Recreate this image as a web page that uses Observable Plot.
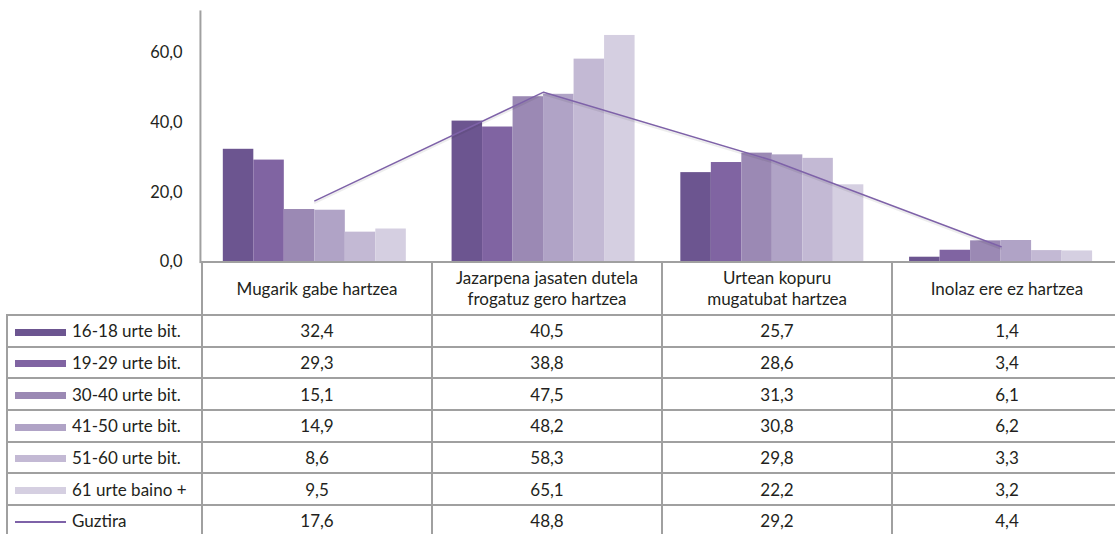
<!DOCTYPE html>
<html><head><meta charset="utf-8">
<script src="https://cdn.jsdelivr.net/npm/d3@7"></script>
<script src="https://cdn.jsdelivr.net/npm/@observablehq/plot@0.6"></script>
<style>
html,body{margin:0;padding:0;background:#fff;overflow:hidden;}
#wrap{position:relative;width:1115px;height:534px;overflow:hidden;font-family:Lato,"Open Sans",sans-serif;color:#231f20;}
#chart{position:absolute;left:0;top:0;}
#tbl{position:absolute;left:6px;top:262px;width:1115px;max-width:none;border-collapse:collapse;table-layout:fixed;font-size:17px;}
#tbl td{border:2px solid #a0a0a0;text-align:center;padding:0;white-space:pre-line;line-height:21px;overflow:hidden;}
#tbl tr.head td{height:52px;border-top:none;}
#tbl tr.head td.first{border-left:none;}
#tbl tr.row td{height:29.7px;}
#tbl tr.last td{border-bottom:none;}
#tbl td.first{text-align:left;padding-left:7px;}
.sw{display:inline-block;width:51px;height:7px;vertical-align:middle;margin-right:6px;position:relative;top:-1px;}
.swl{display:inline-block;width:51px;height:2px;vertical-align:middle;margin-right:6px;position:relative;top:-1px;}
</style></head>
<body>
<div id="wrap"><div id="chart"></div></div>
<script>
const categories = ["Mugarik gabe hartzea", "Jazarpena jasaten dutela frogatuz gero hartzea", "Urtean kopuru mugatubat hartzea", "Inolaz ere ez hartzea"];
const categoryLines = ["Mugarik gabe hartzea", "Jazarpena jasaten dutela\nfrogatuz gero hartzea", "Urtean kopuru\nmugatubat hartzea", "Inolaz ere ez hartzea"];
const seriesNames = ["16-18 urte bit.", "19-29 urte bit.", "30-40 urte bit.", "41-50 urte bit.", "51-60 urte bit.", "61 urte baino +"];
const v16_18 = [32.4, 40.5, 25.7, 1.4];
const v19_29 = [29.3, 38.8, 28.6, 3.4];
const v30_40 = [15.1, 47.5, 31.3, 6.1];
const v41_50 = [14.9, 48.2, 30.8, 6.2];
const v51_60 = [8.6, 58.3, 29.8, 3.3];
const v61 = [9.5, 65.1, 22.2, 3.2];
const totalName = "Guztira";
const total = [17.6, 48.8, 29.2, 4.4];
const yTicks = [0, 20, 40, 60];
const colors = ["#6c5590", "#8064a2", "#9b89b4", "#b0a3c6", "#c3b9d4", "#d5cfe1"];
const lineColor = "#7e62a8";

const seriesValues = [v16_18, v19_29, v30_40, v41_50, v51_60, v61];
const fmt = d => d.toFixed(1).replace(".", ",");

const bandW = 230, groupW = 184, barW = groupW / seriesValues.length;
const inset = (bandW - barW) / 2;

const barMarks = seriesValues.map((vals, i) =>
  Plot.barY(vals, {
    x: categories, y: vals, fill: colors[i],
    insetLeft: inset, insetRight: inset,
    dx: (i - (seriesValues.length - 1) / 2) * barW
  })
);

const chart = Plot.plot({
  width: 1121, height: 284,
  marginLeft: 201, marginRight: 0, marginTop: 11, marginBottom: 21,
  style: {fontFamily: "Lato, 'Open Sans', sans-serif", fontSize: "16px", color: "#231f20", background: "transparent", overflow: "visible"},
  x: {domain: categories, padding: 0, axis: null},
  y: {domain: [0, 72], axis: null},
  marks: [
    ...barMarks,
    Plot.lineY(total, {x: categories, y: total, stroke: "#000", strokeOpacity: 0.07, strokeWidth: 2, dy: 2}),
    Plot.lineY(total, {x: categories, y: total, stroke: lineColor, strokeWidth: 1.5}),
    Plot.axisY({ticks: yTicks, tickFormat: fmt, tickSize: 0, tickPadding: 18, fontSize: 16.5, fill: "#231f20"}),
    Plot.frame({anchor: "left", stroke: "#a0a0a0", strokeWidth: 2}),
    Plot.ruleY([0], {stroke: "#a0a0a0", strokeWidth: 2})
  ]
});
document.getElementById("chart").appendChild(chart);

// data table
const tbl = d3.select("#wrap").append("table").attr("id", "tbl");
const cg = tbl.append("colgroup");
cg.append("col").style("width", "195px");
categories.forEach(() => cg.append("col").style("width", "230px"));
const head = tbl.append("tr").attr("class", "head");
head.append("td").attr("class", "first");
categoryLines.forEach(c => head.append("td").text(c));
seriesNames.forEach((name, i) => {
  const tr = tbl.append("tr").attr("class", "row");
  const f = tr.append("td").attr("class", "first");
  f.append("span").attr("class", "sw").style("background", colors[i]);
  f.append("span").text(name);
  seriesValues[i].forEach(v => tr.append("td").text(fmt(v)));
});
const trT = tbl.append("tr").attr("class", "row last");
const fT = trT.append("td").attr("class", "first");
fT.append("span").attr("class", "swl").style("background", lineColor);
fT.append("span").text(totalName);
total.forEach(v => trT.append("td").text(fmt(v)));
</script>
</body></html>
